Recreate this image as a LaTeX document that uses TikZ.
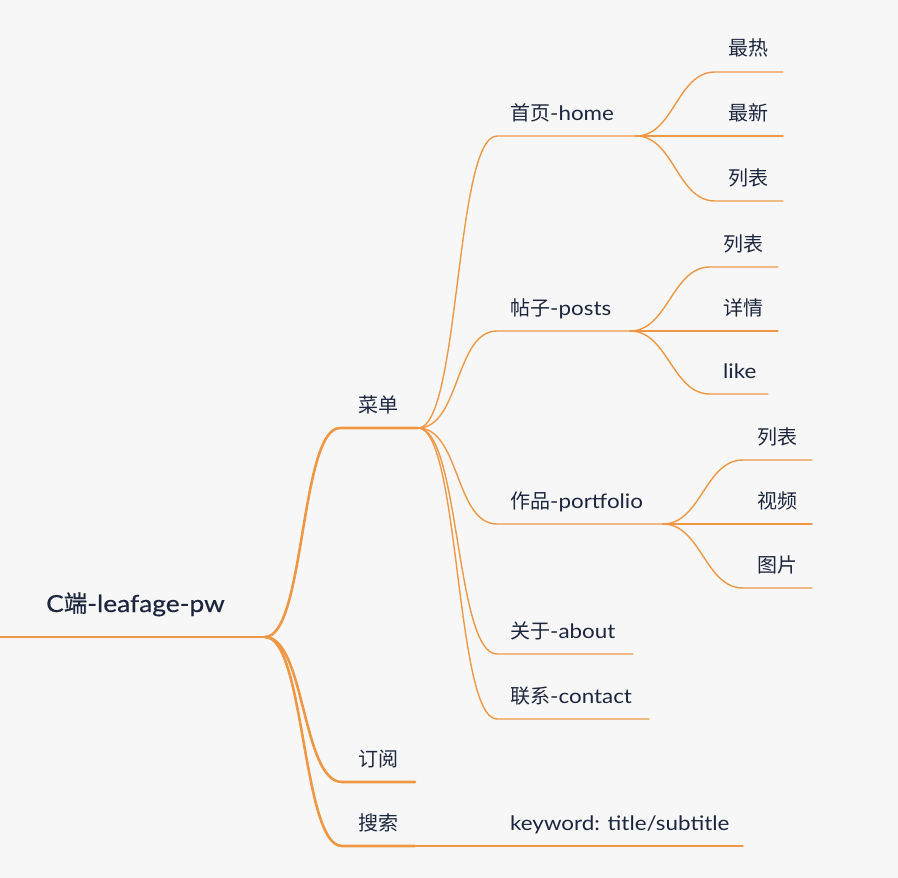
\documentclass[tikz,border=0pt]{standalone}
\usepackage{fontspec}
\setmainfont{Lato}[FakeStretch=1.12]
\newfontfamily\cjk{Noto Sans CJK SC}
\newfontfamily\rootlat{Lato}[FakeStretch=1.12,FakeBold=0.6]
\newfontfamily\rootcjk{Noto Sans CJK SC}[FakeBold=0.6]
\definecolor{bg}{RGB}{247,247,247}
\definecolor{br}{RGB}{238,152,70}
\definecolor{ink}{RGB}{28,38,62}
\begin{document}
\begin{tikzpicture}[x=1pt,y=-1pt,
  lbl/.style={inner sep=0pt,anchor=base west,text=ink,font=\fontsize{20}{24}\selectfont},
  rootlbl/.style={lbl,font=\fontsize{23.5}{28}\selectfont\rootlat},
  thick1/.style={draw=br,line width=2.6pt,line cap=round},
  thin2/.style={draw=br,line width=1.4pt,line cap=round},
  bend/.style={out=0,in=180,distance=#1}]
\fill[bg] (0,0) rectangle (898,878);
\useasboundingbox (0,0) rectangle (898,878);
% junction coordinates
\coordinate (R0) at (0,637);   \coordinate (R1) at (265,637);
\coordinate (ML) at (340,428); \coordinate (MR) at (418,428);
\coordinate (SL) at (342,782); \coordinate (SR) at (415,782);
\coordinate (QL) at (342,846); \coordinate (QR) at (415,846);
\coordinate (KL) at (497,846); \coordinate (KR) at (743,846);
\coordinate (HL) at (497,136); \coordinate (HR) at (636,136);
\coordinate (PL) at (497,331); \coordinate (PR) at (630,331);
\coordinate (FL) at (497,524); \coordinate (FR) at (663,524);
\coordinate (AL) at (497,654); \coordinate (AR) at (633,654);
\coordinate (CL) at (497,719); \coordinate (CR) at (649,719);
\coordinate (h1L) at (715,72);  \coordinate (h1R) at (783,72);
\coordinate (h2L) at (715,136); \coordinate (h2R) at (783,136);
\coordinate (h3L) at (715,201); \coordinate (h3R) at (783,201);
\coordinate (p1L) at (710,267); \coordinate (p1R) at (778,267);
\coordinate (p2L) at (710,331); \coordinate (p2R) at (778,331);
\coordinate (p3L) at (710,394); \coordinate (p3R) at (768,394);
\coordinate (f1L) at (743,460); \coordinate (f1R) at (812,460);
\coordinate (f2L) at (743,524); \coordinate (f2R) at (812,524);
\coordinate (f3L) at (743,588); \coordinate (f3R) at (812,588);
% labels
\node[rootlbl] (root) at (46,612) {C{\rootcjk 端}-leafage-pw};
\node[lbl] (menu) at (358,412) {\cjk 菜单};
\node[lbl] (sub) at (358,766) {\cjk 订阅};
\node[lbl] (search) at (358,830) {\cjk 搜索};
\node[lbl] (kw) at (510,830) {keyword: title/subtitle};
\node[lbl] (home) at (510,120) {{\cjk 首页}-home};
\node[lbl] (posts) at (510,315) {{\cjk 帖子}-posts};
\node[lbl] (port) at (510,508) {{\cjk 作品}-portfolio};
\node[lbl] (about) at (510,638) {{\cjk 关于}-about};
\node[lbl] (contact) at (510,703) {{\cjk 联系}-contact};
\node[lbl] (h1) at (728,56) {\cjk 最热};
\node[lbl] (h2) at (728,120) {\cjk 最新};
\node[lbl] (h3) at (728,185) {\cjk 列表};
\node[lbl] (p1) at (723,251) {\cjk 列表};
\node[lbl] (p2) at (723,315) {\cjk 详情};
\node[lbl] (p3) at (723,378) {like};
\node[lbl] (f1) at (757,444) {\cjk 列表};
\node[lbl] (f2) at (757,508) {\cjk 视频};
\node[lbl] (f3) at (757,572) {\cjk 图片};
% connectors level 0/1
\draw[thick1] (R0) -- (R1);
\draw[thick1] (R1) to[bend=40] (ML) -- (MR);
\draw[thick1] (R1) to[bend=40] (SL) -- (SR);
\draw[thick1] (R1) to[bend=40] (QL) -- (QR);
% level 2
\draw[thin2] (QR) -- (KL) -- (KR);
\draw[thin2] (MR) to[bend=42] (HL) -- (HR);
\draw[thin2] (MR) to[bend=42] (PL) -- (PR);
\draw[thin2] (MR) to[bend=42] (FL) -- (FR);
\draw[thin2] (MR) to[bend=42] (AL) -- (AR);
\draw[thin2] (MR) to[bend=42] (CL) -- (CR);
% level 3
\draw[thin2] (HR) to[bend=38] (h1L) -- (h1R);
\draw[thin2] (HR) -- (h2L) -- (h2R);
\draw[thin2] (HR) to[bend=38] (h3L) -- (h3R);
\draw[thin2] (PR) to[bend=38] (p1L) -- (p1R);
\draw[thin2] (PR) -- (p2L) -- (p2R);
\draw[thin2] (PR) to[bend=38] (p3L) -- (p3R);
\draw[thin2] (FR) to[bend=38] (f1L) -- (f1R);
\draw[thin2] (FR) -- (f2L) -- (f2R);
\draw[thin2] (FR) to[bend=38] (f3L) -- (f3R);
\end{tikzpicture}
\end{document}
